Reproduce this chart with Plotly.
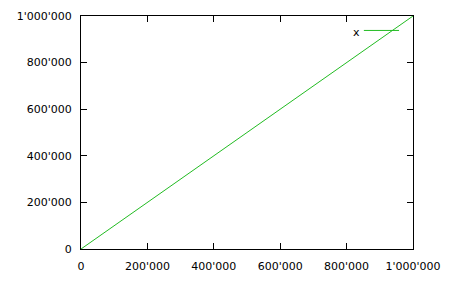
import plotly.graph_objects as go

x_vals = [0, 1000000]
y_vals = [0, 1000000]
series_name = "x"
tick_vals = [0, 200000, 400000, 600000, 800000, 1000000]

GREEN = "#22bb22"
FONT = dict(family="DejaVu Sans", size=11, color="#000000")

fig = go.Figure()
fig.add_trace(go.Scatter(x=x_vals, y=y_vals, mode="lines", name=series_name,
                         line=dict(color=GREEN, width=1), showlegend=False))

axis_common = dict(
    range=[0, 1000000], tickvals=tick_vals, tickformat=",d", automargin=False,
    showgrid=False, zeroline=False, showline=True, linecolor="#000000", linewidth=1,
    mirror="ticks", ticks="inside", ticklen=6, tickwidth=1, tickcolor="#000000",
    tickfont=FONT,
)
fig.update_xaxes(**axis_common, ticklabelstandoff=7)
fig.update_yaxes(**axis_common, ticklabelstandoff=6)

# legend entry drawn in gnuplot style: label left, sample line right
fig.add_annotation(xref="paper", yref="paper", x=0.845, y=0.931, text=series_name,
                   showarrow=False, xanchor="right", yanchor="middle", font=FONT)
fig.add_shape(type="line", xref="paper", yref="paper", x0=0.852, x1=0.958,
              y0=0.938, y1=0.938, line=dict(color=GREEN, width=1))

fig.update_layout(
    width=451, height=281, separators=".'",
    margin=dict(l=81, r=38, t=16, b=32),
    paper_bgcolor="#ffffff", plot_bgcolor="#ffffff",
    font=FONT,
)
fig.write_html("out.html")
